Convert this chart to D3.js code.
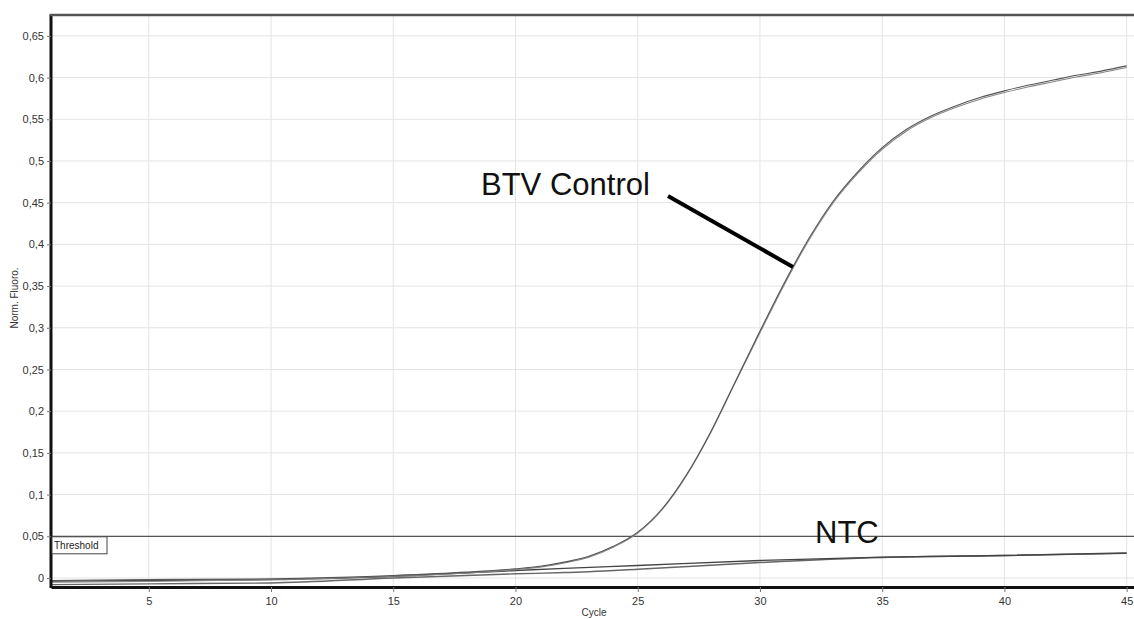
<!DOCTYPE html>
<html>
<head>
<meta charset="utf-8">
<script src="https://cdn.jsdelivr.net/npm/d3@7"></script>
<style>
  html, body { margin: 0; padding: 0; background: #fff; }
  svg { display: block; font-family: "Liberation Sans", Arial, sans-serif; }
</style>
</head>
<body>
<svg id="chart" width="1134" height="619"></svg>
<script>
// ---- data ----
const btvCycles = [1,5,10,15,18,20,21,22,23,24,25,26,27,28,29,30,31,32,33,34,35,36,37,38,39,40,41,42,43,44,45];
const btvA = [-0.003,-0.002,-0.001,0.003,0.007,0.011,0.014,0.019,0.026,0.038,0.055,0.083,0.124,0.176,0.236,0.296,0.354,0.407,0.452,0.487,0.516,0.538,0.554,0.566,0.576,0.584,0.591,0.597,0.603,0.608,0.614];
const btvB = [-0.005,-0.004,-0.002,0.002,0.006,0.010,0.013,0.018,0.025,0.037,0.054,0.082,0.123,0.175,0.235,0.294,0.352,0.405,0.450,0.485,0.514,0.536,0.552,0.564,0.574,0.582,0.589,0.595,0.601,0.606,0.612];
const ntcCycles = [1,5,10,15,20,22,25,30,35,40,45];
const ntcA = [-0.004,-0.003,-0.002,0.002,0.009,0.0115,0.015,0.021,0.025,0.027,0.030];
const ntcB = [-0.008,-0.007,-0.006,0.000,0.005,0.0065,0.0105,0.0185,0.0245,0.027,0.0295];
const threshold = 0.05;
const xTicks = [5,10,15,20,25,30,35,40,45];
const yTicks = [0,0.05,0.1,0.15,0.2,0.25,0.3,0.35,0.4,0.45,0.5,0.55,0.6,0.65];
const yTickLabels = ["0","0,05","0,1","0,15","0,2","0,25","0,3","0,35","0,4","0,45","0,5","0,55","0,6","0,65"];

// ---- layout ----
const svg = d3.select("#chart");
const pL = 51, pR = 1134, pT = 15, pB = 587;
const x = d3.scaleLinear().domain([1, 45.3]).range([pL, pR]);
const y = d3.scaleLinear().domain([-0.0108, 0.675]).range([pB, pT]);

// gridlines
svg.append("g").selectAll("line").data(xTicks).join("line")
  .attr("x1", d => x(d)).attr("x2", d => x(d))
  .attr("y1", pT).attr("y2", pB)
  .attr("stroke", "#e4e4e4").attr("stroke-width", 1);
svg.append("g").selectAll("line").data(yTicks).join("line")
  .attr("x1", pL).attr("x2", pR)
  .attr("y1", d => y(d)).attr("y2", d => y(d))
  .attr("stroke", "#e4e4e4").attr("stroke-width", 1);

// threshold
svg.append("line")
  .attr("x1", pL).attr("x2", pR)
  .attr("y1", y(threshold)).attr("y2", y(threshold))
  .attr("stroke", "#555").attr("stroke-width", 1.2);

// curves
const line = d3.line().curve(d3.curveMonotoneX);
function drawSeries(cycles, vals, color, w) {
  svg.append("path")
    .attr("d", line(cycles.map((c, i) => [x(c), y(vals[i])])))
    .attr("fill", "none").attr("stroke", color).attr("stroke-width", w);
}
drawSeries(ntcCycles, ntcB, "#666", 1.4);
drawSeries(ntcCycles, ntcA, "#444", 1.4);
drawSeries(btvCycles, btvB, "#888", 1.1);
drawSeries(btvCycles, btvA, "#555", 1.1);

// axes
const xAxis = d3.axisBottom(x).tickValues(xTicks).tickSize(5).tickSizeOuter(0).tickFormat(d3.format("d"));
const gx = svg.append("g").attr("transform", `translate(0,${pB})`).call(xAxis);
gx.select(".domain").attr("stroke", "#111").attr("stroke-width", 3);
gx.selectAll(".tick line").attr("stroke", "#777");
gx.selectAll(".tick text").attr("font-size", 11).attr("fill", "#333")
  .attr("font-family", "Liberation Sans, Arial, sans-serif").attr("dy", "0.95em");

const yAxis = d3.axisLeft(y).tickValues(yTicks).tickSize(4).tickSizeOuter(0)
  .tickFormat((d, i) => yTickLabels[i]);
const gy = svg.append("g").attr("transform", `translate(${pL},0)`).call(yAxis);
gy.select(".domain").attr("stroke", "#111").attr("stroke-width", 3)
  .attr("d", `M0,${pT}V${pB + 1}`);
gy.selectAll(".tick line").attr("stroke", "#777");
gy.selectAll(".tick text").attr("font-size", 11).attr("fill", "#333")
  .attr("font-family", "Liberation Sans, Arial, sans-serif").attr("x", -7);

// top border
svg.append("line").attr("x1", pL - 1.5).attr("x2", pR).attr("y1", pT).attr("y2", pT)
  .attr("stroke", "#555").attr("stroke-width", 2.5);

// axis titles
svg.append("text").attr("transform", `translate(18,298) rotate(-90)`)
  .attr("text-anchor", "middle").attr("font-size", 10).attr("fill", "#333")
  .text("Norm. Fluoro.");
svg.append("text").attr("x", 594).attr("y", 616)
  .attr("text-anchor", "middle").attr("font-size", 10).attr("fill", "#333")
  .text("Cycle");

// threshold label
svg.append("rect").attr("x", 52).attr("y", y(threshold) + 0.5).attr("width", 55).attr("height", 17)
  .attr("fill", "#fff").attr("stroke", "#444").attr("stroke-width", 1);
svg.append("text").attr("x", 54).attr("y", y(threshold) + 13).attr("font-size", 10).attr("fill", "#222")
  .text("Threshold");

// annotations
svg.append("text").attr("x", 481).attr("y", 195).attr("font-size", 31).attr("fill", "#111")
  .text("BTV Control");
svg.append("line").attr("x1", 668).attr("y1", 196).attr("x2", 793).attr("y2", 267)
  .attr("stroke", "#000").attr("stroke-width", 4);
svg.append("text").attr("x", 815).attr("y", 543).attr("font-size", 31).attr("fill", "#111")
  .text("NTC");
</script>
</body>
</html>
